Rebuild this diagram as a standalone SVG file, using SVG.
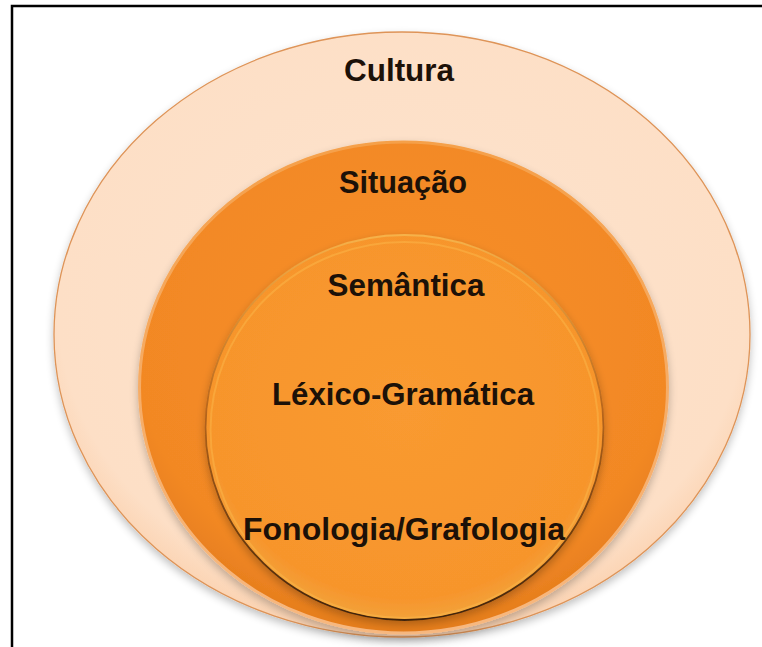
<svg xmlns="http://www.w3.org/2000/svg" width="762" height="647" viewBox="0 0 762 647">
  <style>
    .lbl { font-family: "Liberation Sans", Arial, sans-serif; font-weight: bold; font-size: 32px; fill: #1c1108; text-anchor: middle; }
  </style>
  <defs>
    <radialGradient id="gOuter" cx="0.5" cy="0.45" r="0.55">
      <stop offset="0" stop-color="#fde3cd"/>
      <stop offset="0.9" stop-color="#fddfc6"/>
      <stop offset="1" stop-color="#fbd3b2"/>
    </radialGradient>
    <radialGradient id="gMid" cx="0.5" cy="0.4" r="0.6">
      <stop offset="0" stop-color="#f78f2a"/>
      <stop offset="0.85" stop-color="#f28824"/>
      <stop offset="1" stop-color="#e57d1d"/>
    </radialGradient>
    <radialGradient id="gInner" cx="0.5" cy="0.45" r="0.55">
      <stop offset="0" stop-color="#f99a30"/>
      <stop offset="0.9" stop-color="#f7952c"/>
      <stop offset="1" stop-color="#f2a23a"/>
    </radialGradient>
    <linearGradient id="gInnerStroke" x1="0" y1="0" x2="0" y2="1">
      <stop offset="0" stop-color="#f6b24a"/>
      <stop offset="0.45" stop-color="#b8661c"/>
      <stop offset="1" stop-color="#3e2208"/>
    </linearGradient>
    <linearGradient id="gMidStroke" x1="0" y1="0" x2="0" y2="1">
      <stop offset="0" stop-color="#f5a04a"/>
      <stop offset="1" stop-color="#f7b880"/>
    </linearGradient>
    <filter id="shadow" x="-10%" y="-10%" width="120%" height="125%">
      <feGaussianBlur in="SourceAlpha" stdDeviation="4"/>
      <feOffset dx="0" dy="4" result="b"/>
      <feComponentTransfer><feFuncA type="linear" slope="0.25"/></feComponentTransfer>
      <feMerge><feMergeNode/><feMergeNode in="SourceGraphic"/></feMerge>
    </filter>
  </defs>

  <rect x="0" y="0" width="762" height="647" fill="#ffffff"/>
  <path d="M12,647 V6 H762" fill="none" stroke="#000000" stroke-width="2.5"/>

  <g id="cultura">
    <ellipse cx="402" cy="334.5" rx="348" ry="302.5" fill="url(#gOuter)" stroke="#de9458" stroke-width="1.3" filter="url(#shadow)"/>
    <text class="lbl" x="399" y="81" textLength="110" lengthAdjust="spacingAndGlyphs">Cultura</text>
  </g>

  <g id="situacao">
    <ellipse cx="403.5" cy="387.5" rx="264" ry="245.5" fill="url(#gMid)" stroke="url(#gMidStroke)" stroke-width="3" filter="url(#shadow)"/>
    <text class="lbl" x="403" y="193" textLength="128" lengthAdjust="spacingAndGlyphs">Situação</text>
  </g>

  <g id="semantica">
    <ellipse cx="404.5" cy="427.5" rx="199" ry="192.5" fill="url(#gInner)" stroke="url(#gInnerStroke)" stroke-width="1.8" filter="url(#shadow)"/>
    <ellipse cx="404.5" cy="430" rx="194" ry="188" fill="none" stroke="#fbb84a" stroke-width="2" opacity="0.5"/>
    <text class="lbl" x="406" y="296" textLength="157" lengthAdjust="spacingAndGlyphs">Semântica</text>
  </g>

  <g id="lexico-gramatica">
    <text class="lbl" x="403" y="405" textLength="262" lengthAdjust="spacingAndGlyphs">Léxico-Gramática</text>
  </g>

  <g id="fonologia-grafologia">
    <text class="lbl" x="404" y="540" textLength="322" lengthAdjust="spacingAndGlyphs">Fonologia/Grafologia</text>
  </g>

  <g id="connectors"/>
</svg>
